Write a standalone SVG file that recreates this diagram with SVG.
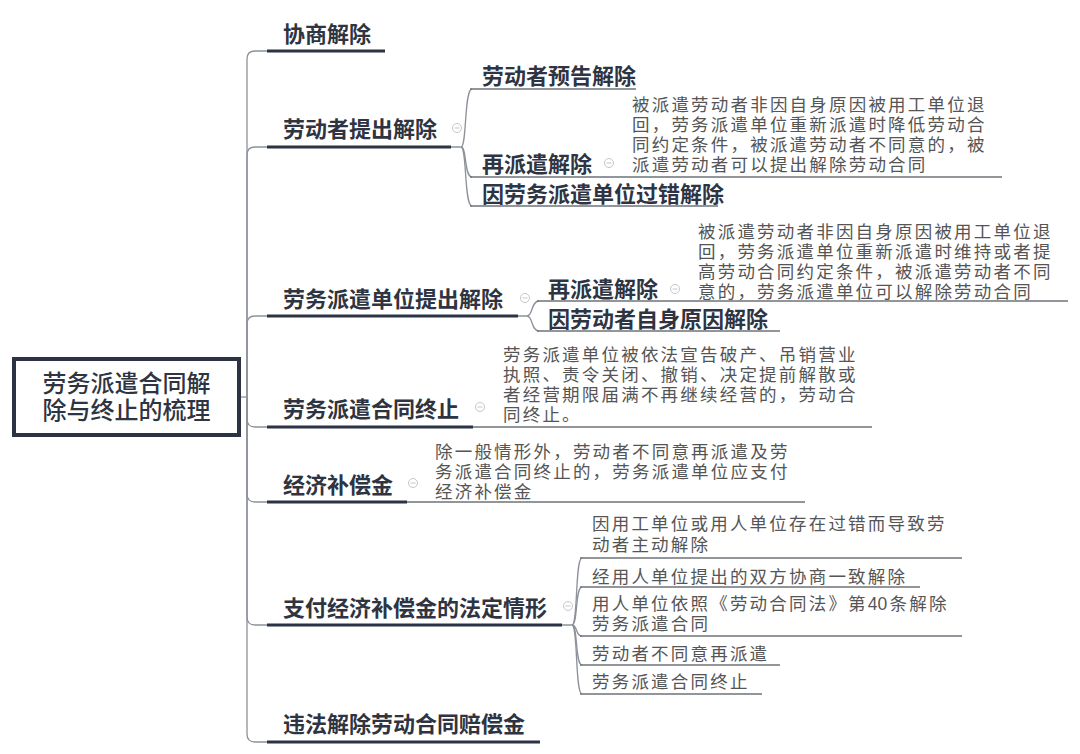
<svg xmlns="http://www.w3.org/2000/svg" width="1080" height="754" viewBox="0 0 1080 754">
<style>
.lbl{font-family:"Noto Sans CJK SC","Liberation Sans",sans-serif;font-size:22px;font-weight:700;fill:#2e3441}
.root{font-family:"Liberation Sans","Noto Sans CJK SC",sans-serif;font-size:24px;font-weight:500;fill:#2e3441}
.desc{font-family:"Liberation Sans","Noto Sans CJK SC",sans-serif;font-size:17.5px;letter-spacing:2.2px;font-weight:400;fill:#555}
.ul1{stroke:#2b3345;stroke-width:3;fill:none}
.ul2{stroke:#6e7278;stroke-width:1.3;fill:none}
.con{stroke:#8d9199;stroke-width:1.3;fill:none}
.tg circle{fill:#fff;stroke:#c3c7cd;stroke-width:1}
.tg line{stroke:#c3c7cd;stroke-width:1}
</style>
<defs>
<g id="tog" class="tg"><circle r="4.5"/><line x1="-2.5" y1="0" x2="2.5" y2="0"/></g>
</defs>
<rect width="1080" height="754" fill="#fff"/>
<g id="connectors" class="con">
<path d="M241,397 H247"/>
<path d="M247,397 V59 Q247,51 255,51 H267"/>
<path d="M247,397 V155 Q247,147 255,147 H267"/>
<path d="M247,397 V324 Q247,316 255,316 H267"/>
<path d="M247,397 V419 Q247,427 255,427 H267"/>
<path d="M247,397 V494 Q247,502 255,502 H267"/>
<path d="M247,397 V617 Q247,625 255,625 H267"/>
<path d="M247,397 V734 Q247,742 255,742 H267"/>
<path d="M451,147 H461 C467,147 464,89 472,89"/>
<path d="M461,147 C467,147 464,177 472,177"/>
<path d="M461,147 C467,147 464,206 472,206"/>
<path d="M518,316 H527 C533,316 531,301 539,301"/>
<path d="M527,316 C533,316 531,331 539,331"/>
<path d="M562,625 H572 C578,625 575,558 582,558"/>
<path d="M572,625 C578,625 575,587 582,587"/>
<path d="M572,625 C578,625 575,636 582,636"/>
<path d="M572,625 C578,625 575,665 582,665"/>
<path d="M572,625 C578,625 575,694 582,694"/>
</g>
<g id="root">
<rect x="14" y="359" width="225" height="76" fill="#fff" stroke="#2b3345" stroke-width="4"/>
<text class="root" x="126.5" y="392" text-anchor="middle">劳务派遣合同解</text>
<text class="root" x="126.5" y="419" text-anchor="middle">除与终止的梳理</text>
</g>
<g id="n1">
<text class="lbl" x="283" y="41.5">协商解除</text>
<path class="ul1" d="M267,51 H385"/>
</g>
<g id="n2">
<text class="lbl" x="283" y="136.5">劳动者提出解除</text>
<path class="ul1" d="M267,147 H451"/>
<use href="#tog" x="457" y="128"/>
</g>
<g id="n2a">
<text class="lbl" x="482" y="83.5">劳动者预告解除</text>
<path class="ul2" d="M470,89 H636"/>
</g>
<g id="n2b">
<text class="lbl" x="482" y="171.5">再派遣解除</text>
<use href="#tog" x="609" y="163"/>
<text class="desc" x="632" y="111">被派遣劳动者非因自身原因被用工单位退</text>
<text class="desc" x="632" y="131">回，劳务派遣单位重新派遣时降低劳动合</text>
<text class="desc" x="632" y="151">同约定条件，被派遣劳动者不同意的，被</text>
<text class="desc" x="632" y="171">派遣劳动者可以提出解除劳动合同</text>
<path class="ul2" d="M470,177 H1002"/>
</g>
<g id="n2c">
<text class="lbl" x="482" y="201.5">因劳务派遣单位过错解除</text>
<path class="ul2" d="M470,206 H718"/>
</g>
<g id="n3">
<text class="lbl" x="283" y="306.5">劳务派遣单位提出解除</text>
<path class="ul1" d="M267,316 H518"/>
<use href="#tog" x="525" y="298"/>
</g>
<g id="n3a">
<text class="lbl" x="548" y="296.5">再派遣解除</text>
<use href="#tog" x="675" y="289"/>
<text class="desc" x="698" y="237.5">被派遣劳动者非因自身原因被用工单位退</text>
<text class="desc" x="698" y="257.5">回，劳务派遣单位重新派遣时维持或者提</text>
<text class="desc" x="698" y="277.5">高劳动合同约定条件，被派遣劳动者不同</text>
<text class="desc" x="698" y="297.5">意的，劳务派遣单位可以解除劳动合同</text>
<path class="ul2" d="M537,301 H1068"/>
</g>
<g id="n3b">
<text class="lbl" x="548" y="326.5" textLength="220" lengthAdjust="spacing">因劳动者自身原因解除</text>
<path class="ul2" d="M537,331 H780"/>
</g>
<g id="n4">
<text class="lbl" x="283" y="416.5">劳务派遣合同终止</text>
<use href="#tog" x="480" y="407"/>
<text class="desc" x="503" y="361">劳务派遣单位被依法宣告破产、吊销营业</text>
<text class="desc" x="503" y="381">执照、责令关闭、撤销、决定提前解散或</text>
<text class="desc" x="503" y="401">者经营期限届满不再继续经营的，劳动合</text>
<text class="desc" x="503" y="421">同终止。</text>
<path class="ul2" d="M473,427 H872"/>
<path class="ul1" d="M267,427 H473"/>
</g>
<g id="n5">
<text class="lbl" x="283" y="492.5">经济补偿金</text>
<use href="#tog" x="413" y="483"/>
<text class="desc" x="435" y="458">除一般情形外，劳动者不同意再派遣及劳</text>
<text class="desc" x="435" y="478">务派遣合同终止的，劳务派遣单位应支付</text>
<text class="desc" x="435" y="498">经济补偿金</text>
<path class="ul2" d="M407,502 H805"/>
<path class="ul1" d="M267,502 H407"/>
</g>
<g id="n6">
<text class="lbl" x="283" y="615.5">支付经济补偿金的法定情形</text>
<path class="ul1" d="M267,625 H562"/>
<use href="#tog" x="568" y="606"/>
</g>
<g id="n6a">
<text class="desc" x="592" y="529.5">因用工单位或用人单位存在过错而导致劳</text>
<text class="desc" x="592" y="550.5">动者主动解除</text>
<path class="ul2" d="M580,558 H962"/>
</g>
<g id="n6b">
<text class="desc" x="592" y="582.5">经用人单位提出的双方协商一致解除</text>
<path class="ul2" d="M580,587 H920"/>
</g>
<g id="n6c">
<text class="desc" x="592" y="609.5">用人单位依照《劳动合同法》第<tspan letter-spacing="0">4</tspan>0条解除</text>
<text class="desc" x="592" y="629.5">劳务派遣合同</text>
<path class="ul2" d="M580,636 H962"/>
</g>
<g id="n6d">
<text class="desc" x="592" y="659.5">劳动者不同意再派遣</text>
<path class="ul2" d="M580,665 H780"/>
</g>
<g id="n6e">
<text class="desc" x="592" y="687.5">劳务派遣合同终止</text>
<path class="ul2" d="M580,694 H762"/>
</g>
<g id="n7">
<text class="lbl" x="283" y="731.5">违法解除劳动合同赔偿金</text>
<path class="ul1" d="M267,742 H540"/>
</g>
</svg>
